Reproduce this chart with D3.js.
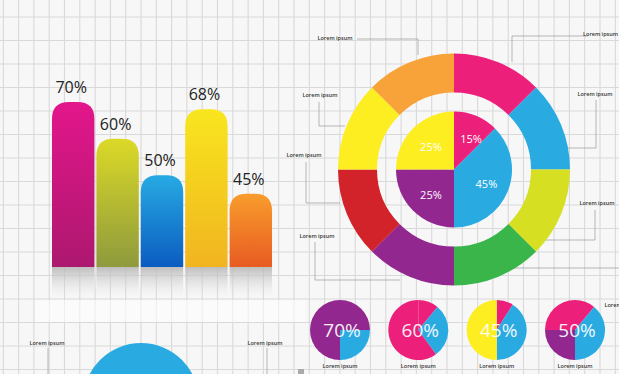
<!DOCTYPE html>
<html>
<head>
<meta charset="utf-8">
<script src="https://cdn.jsdelivr.net/npm/d3@7/dist/d3.min.js"></script>
<style>
  body { margin: 0; background: #f6f6f6; }
  svg { display: block; }
</style>
</head>
<body>
<svg id="chart" width="619" height="374"></svg>
<script>
// bar chart values
const barLabels = ["70%", "60%", "50%", "68%", "45%"]
const barValues = [70, 60, 50, 68, 45]

// outer ring: eight equal parts, clockwise from 12 o'clock
const ringShares = [12.5, 12.5, 12.5, 12.5, 12.5, 12.5, 12.5, 12.5]

// inner pie: printed labels and the share of the circle each slice takes
const innerLabels = ["15%", "45%", "25%", "25%"]
const innerShares = [12.5, 37.5, 25, 25]

// small pies, slices clockwise from 12 o'clock
const smallLabels = ["70%", "60%", "45%", "50%"]
const smallShares = [[25, 25, 50], [11, 29, 60], [9, 41, 50], [11, 39, 25, 25]]

const calloutText = "Lorem ipsum"

// colours
const pink = "#ec1f7a", blue = "#29abe2", purple = "#92278f", yellow = "#fcee21"
const barTop = ["#e3168b", "#dcd927", "#27aae3", "#f8e61e", "#f89d2c"]
const barBottom = ["#ad186f", "#8e9a3d", "#0b5cc0", "#f1b420", "#e85b22"]
const ringColors = [pink, blue, "#d7df23", "#39b54a", purple, "#d2232a", yellow, "#f7a33a"]
const innerColors = [pink, blue, purple, yellow]
const smallColors = [[purple, blue, purple], [pink, blue, pink], [pink, blue, yellow], [pink, blue, purple, pink]]

const svg = d3.select("#chart")
const W = 619, H = 374
const font = "Open Sans, Helvetica"

// background grid
svg.append("rect").attr("width", W).attr("height", H).attr("fill", "#f7f7f7")
const grid = svg.append("g").attr("stroke", "#d9d9d9").attr("stroke-width", 1.1)
grid.selectAll("line.v")
    .data(d3.range(3.3, W, 15.3))
    .enter()
    .append("line")
        .attr("x1", d => d).attr("x2", d => d)
        .attr("y1", 0).attr("y2", H)
grid.selectAll("line.h")
    .data(d3.range(17, H, 23.5))
    .enter()
    .append("line")
        .attr("x1", 0).attr("x2", W)
        .attr("y1", d => d).attr("y2", d => d)

// soft white band under the bars
svg.append("rect")
    .attr("x", 35).attr("y", 300).attr("width", 270).attr("height", 22)
    .attr("fill", "#fff").attr("opacity", 0.55)

const defs = svg.append("defs")

// ---------- bar chart ----------
const x = d3.scaleBand()
    .domain(d3.range(barValues.length))
    .range([52, 272])
    .paddingInner(0.045)

const y = d3.scaleLinear()
    .domain([25, 70])
    .range([267, 102])

barValues.forEach((v, i) => {
    const g = defs.append("linearGradient")
        .attr("id", "bar" + i)
        .attr("x1", 0).attr("y1", 0).attr("x2", 0).attr("y2", 1)
    g.append("stop").attr("offset", "0%").attr("stop-color", barTop[i])
    g.append("stop").attr("offset", "100%").attr("stop-color", barBottom[i])
})

const shade = defs.append("linearGradient")
    .attr("id", "shade")
    .attr("x1", 0).attr("y1", 0).attr("x2", 0).attr("y2", 1)
shade.append("stop").attr("offset", "0%").attr("stop-color", "#b8b8b8").attr("stop-opacity", 0.9)
shade.append("stop").attr("offset", "100%").attr("stop-color", "#e0e0e0").attr("stop-opacity", 0)

function roundTop(x0, y0, w, base, r) {
    return `M${x0},${base} V${y0 + r} Q${x0},${y0} ${x0 + r},${y0} H${x0 + w - r} Q${x0 + w},${y0} ${x0 + w},${y0 + r} V${base} Z`
}

const bars = svg.append("g")

// reflection under each bar
bars.selectAll("rect.shadow")
    .data(barValues)
    .enter()
    .append("rect")
        .attr("x", (d, i) => x(i))
        .attr("y", y(25))
        .attr("width", x.bandwidth())
        .attr("height", 30)
        .attr("fill", "url(#shade)")

bars.selectAll("path")
    .data(barValues)
    .enter()
    .append("path")
        .attr("d", (d, i) => roundTop(x(i), y(d), x.bandwidth(), y(25), 17))
        .attr("fill", (d, i) => `url(#bar${i})`)

bars.selectAll("text")
    .data(barValues)
    .enter()
    .append("text")
        .attr("x", (d, i) => x(i) + x.bandwidth() / 2 - 2)
        .attr("y", d => y(d) - 9)
        .attr("text-anchor", "middle")
        .attr("font-family", font)
        .attr("font-size", 16)
        .attr("fill", "#222")
        .text((d, i) => barLabels[i])

// ---------- donut with inner pie ----------
const cx = 454, cy = 169.5
const pie = d3.pie().sort(null).value(d => d)

// callout lines and labels round the donut
const callouts = [
    { tx: 335, ty: 40, anchor: "middle", pts: [[357, 39], [418, 39], [418, 55]] },
    { tx: 320, ty: 97, anchor: "middle", pts: [[319, 102], [319, 126], [345, 126]] },
    { tx: 304, ty: 157, anchor: "middle", pts: [[306, 162], [306, 203], [340, 203]] },
    { tx: 317, ty: 238, anchor: "middle", pts: [[315, 242], [315, 280], [400, 280]] },
    { tx: 618, ty: 36, anchor: "end", pts: [[588, 36], [512, 36], [512, 62]] },
    { tx: 595, ty: 96, anchor: "middle", pts: [[596, 100], [596, 148], [555, 148]] },
    { tx: 597, ty: 205, anchor: "middle", pts: [[595, 210], [595, 240], [540, 240]] },
    { tx: 622, ty: 307, anchor: "middle", pts: [[619, 268], [513, 268]] },
    { tx: 47, ty: 345, anchor: "middle", pts: [[48, 348], [48, 374]] },
    { tx: 265, ty: 345, anchor: "middle", pts: [[267, 348], [267, 374]] }
]

const notes = svg.append("g")
notes.selectAll("polyline")
    .data(callouts)
    .enter()
    .append("polyline")
        .attr("points", d => d.pts.map(p => p.join(",")).join(" "))
        .attr("fill", "none")
        .attr("stroke", "#9a9a9a")
        .attr("stroke-width", 0.7)
notes.selectAll("text")
    .data(callouts)
    .enter()
    .append("text")
        .attr("x", d => d.tx)
        .attr("y", d => d.ty)
        .attr("text-anchor", d => d.anchor)
        .attr("font-family", font)
        .attr("font-size", 5.5)
        .attr("font-weight", 600)
        .attr("fill", "#333")
        .text(calloutText)

const donut = svg.append("g").attr("transform", `translate(${cx},${cy})`)

donut.selectAll("path.ring")
    .data(pie(ringShares))
    .enter()
    .append("path")
        .attr("d", d3.arc().innerRadius(77).outerRadius(116))
        .attr("fill", (d, i) => ringColors[i])

const innerArc = d3.arc().innerRadius(0).outerRadius(58)
const innerLabelArc = d3.arc().innerRadius(34).outerRadius(34)

donut.selectAll("path.inner")
    .data(pie(innerShares))
    .enter()
    .append("path")
        .attr("d", innerArc)
        .attr("fill", (d, i) => innerColors[i])

donut.selectAll("text")
    .data(pie(innerShares))
    .enter()
    .append("text")
        .attr("transform", (d, i) => {
            const c = innerLabelArc.centroid(d)
            // the thin first wedge gets its label nudged right
            return i == 0 ? `translate(${c[0] + 4},${c[1]})` : `translate(${c[0] + 1},${c[1] + 1})`
        })
        .attr("text-anchor", "middle")
        .attr("dominant-baseline", "central")
        .attr("font-family", font)
        .attr("font-size", 11)
        .attr("fill", "#fff")
        .text((d, i) => innerLabels[i])

// ---------- small pies ----------
const px = d3.scalePoint()
    .domain(smallLabels.map((d, i) => i))
    .range([340, 575])
const smallArc = d3.arc().innerRadius(0).outerRadius(30)

const small = svg.selectAll("g.small")
    .data(smallShares)
    .enter()
    .append("g")
        .attr("class", "small")
        .attr("transform", (d, i) => `translate(${px(i)},330)`)

small.each(function(shares, i) {
    d3.select(this).selectAll("path")
        .data(pie(shares))
        .enter()
        .append("path")
            .attr("d", smallArc)
            .attr("fill", (d, j) => smallColors[i][j])
})

small.append("text")
    .attr("x", 2)
    .attr("y", 0)
    .attr("text-anchor", "middle")
    .attr("dominant-baseline", "central")
    .attr("font-family", font)
    .attr("font-size", 19)
    .attr("fill", "#fff")
    .attr("opacity", 0.92)
    .text((d, i) => smallLabels[i])

small.append("text")
    .attr("x", 0)
    .attr("y", 38)
    .attr("text-anchor", "middle")
    .attr("font-family", font)
    .attr("font-size", 5.5)
    .attr("font-weight", 600)
    .attr("fill", "#333")
    .text(calloutText)

// ---------- big circle, bottom left (cut by the frame) ----------
svg.append("circle")
    .attr("cx", 141).attr("cy", 401).attr("r", 58)
    .attr("fill", blue)

svg.append("rect")
    .attr("x", 298).attr("y", 369).attr("width", 6).attr("height", 5)
    .attr("fill", "#aaa")
</script>
</body>
</html>
